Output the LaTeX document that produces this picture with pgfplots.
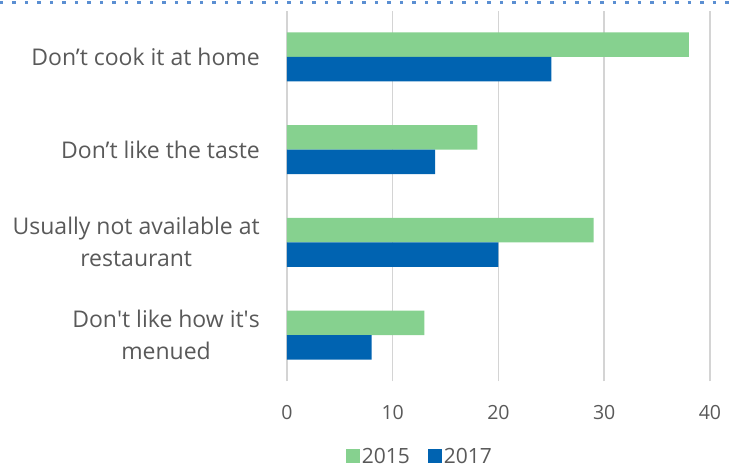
\documentclass[border=0pt]{standalone}
\usepackage{pgfplots}
\pgfplotsset{compat=1.18}
\usepackage{fontspec}
\setmainfont{Open Sans}
\definecolor{cgreen}{RGB}{134,209,143}
\definecolor{cblue}{RGB}{0,99,177}
\definecolor{cgrid}{RGB}{212,212,212}
\definecolor{ctext}{RGB}{89,89,89}
\definecolor{cdot}{RGB}{91,143,210}
\begin{document}
\begin{tikzpicture}[x=1pt,y=1pt]
\path[use as bounding box] (-287,-88.6) rectangle (445,381.4);
\draw[cdot, line width=3pt, dash pattern=on 3.5pt off 9pt] (-287,378.4) -- (445,378.4);
\begin{axis}[
  at={(0,0)}, anchor=south west,
  scale only axis, width=423pt, height=370.8pt,
  xmin=0, xmax=40, ymin=-0.5, ymax=3.5,
  xbar, bar width=24.5pt,
  xtick={0,10,20,30,40},
  ytick={0,1,2,3},
  yticklabels={{Don\textquotesingle t like how it\textquotesingle s\\menued},{Usually not available at\\restaurant},{Don’t like the taste},{Don’t cook it at home}},
  xmajorgrids, grid style={cgrid, line width=1.5pt},
  axis line style={draw=none},
  major tick length=0,
  /pgf/number format/assume math mode=true,
  tick label style={font=\fontsize{19.5}{32}\selectfont, text=ctext, inner sep=0pt},
  yticklabel style={align=center, anchor=east, xshift=-27pt, font=\fontsize{23}{32}\selectfont},
  xticklabel style={anchor=center, yshift=-31.6pt},
  legend style={at={(0.314,-0.202)}, anchor=center, draw=none, fill=none,
    legend columns=2, font=\fontsize{21}{25}\selectfont, text=ctext,
    inner sep=0pt, nodes={inner sep=2pt},
    /tikz/every even column/.append style={column sep=16pt}},
  legend image code/.code={\fill (0pt,-7pt) rectangle (14pt,7pt);},
]
\addplot[fill=cgreen, draw=none, bar shift=12.25pt] coordinates {(38,3) (18,2) (29,1) (13,0)};
\addplot[fill=cblue, draw=none, bar shift=-12.25pt] coordinates {(25,3) (14,2) (20,1) (8,0)};
\legend{2015,2017}
\end{axis}
\end{tikzpicture}
\end{document}
